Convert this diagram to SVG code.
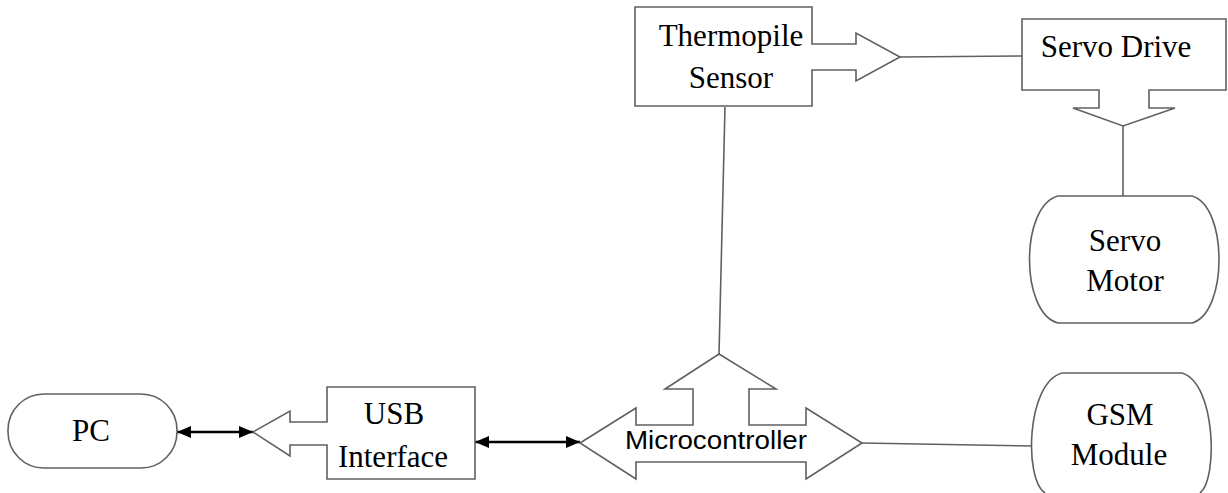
<svg xmlns="http://www.w3.org/2000/svg" width="1228" height="493" viewBox="0 0 1228 493">
  <style>
    .shape { fill: #ffffff; stroke: #606060; stroke-width: 1.6; stroke-linejoin: miter; }
    .wire { fill: none; stroke: #606060; stroke-width: 1.6; }
    .bus { fill: none; stroke: #000000; stroke-width: 2.4; }
    .label { font-family: "Liberation Serif", "Times New Roman", serif; font-size: 31px; fill: #000000; text-anchor: middle; }
    .mcu { font-family: "Liberation Sans", Arial, sans-serif; font-size: 25px; fill: #000000; }
  </style>
  <defs>
    <marker id="head" viewBox="0 0 14 12" refX="14" refY="6" markerWidth="14" markerHeight="12" markerUnits="userSpaceOnUse" orient="auto-start-reverse">
      <path d="M0,0 L14,6 L0,12 Z" fill="#000000"/>
    </marker>
  </defs>

  <rect width="1228" height="493" fill="#ffffff"/>

  <!-- connectors -->
  <g id="connectors">
    <line class="wire" x1="900" y1="57" x2="1022" y2="56"/>
    <line class="wire" x1="1123" y1="126" x2="1123" y2="196"/>
    <line class="wire" x1="719" y1="354" x2="725" y2="107"/>
    <line class="wire" x1="862" y1="443" x2="1032" y2="446"/>
    <line class="bus" x1="177" y1="432" x2="253" y2="432" marker-start="url(#head)" marker-end="url(#head)"/>
    <line class="bus" x1="475" y1="442" x2="580" y2="442" marker-start="url(#head)" marker-end="url(#head)"/>
  </g>

  <!-- thermopile sensor with output arrow -->
  <g id="thermopile">
    <path class="shape" d="M635,7 L812,7 L812,44 L856,44 L856,33 L900,57 L856,81 L856,70 L812,70 L812,106 L635,106 Z"/>
    <text class="label" x="731" y="46">Thermopile</text>
    <text class="label" x="731" y="88">Sensor</text>
  </g>

  <!-- servo drive with output arrow -->
  <g id="servo-drive">
    <path class="shape" d="M1022,19 L1226,19 L1226,90 L1149,90 L1149,108 L1175,108 L1123,126 L1073,108 L1099,108 L1099,90 L1022,90 Z"/>
    <text class="label" x="1116" y="57">Servo Drive</text>
  </g>

  <!-- servo motor -->
  <g id="servo-motor">
    <path class="shape" d="M1058,196 L1192,196 C1228,206 1228,313 1192,323 L1058,323 C1020,313 1020,206 1058,196 Z"/>
    <text class="label" x="1125" y="251">Servo</text>
    <text class="label" x="1125" y="291">Motor</text>
  </g>

  <!-- PC -->
  <g id="pc">
    <rect class="shape" x="8" y="394" width="169" height="74" rx="36" ry="36"/>
    <text class="label" x="91" y="441">PC</text>
  </g>

  <!-- USB interface with arrow toward PC -->
  <g id="usb">
    <path class="shape" d="M327,387 L475,387 L475,479 L327,479 L327,445 L290,445 L290,456 L253,432 L290,411 L290,422 L327,422 Z"/>
    <text class="label" x="394" y="424">USB</text>
    <text class="label" x="393" y="467">Interface</text>
  </g>

  <!-- microcontroller three-way arrow -->
  <g id="microcontroller">
    <path class="shape" d="M580,443 L636,408 L636,425 L693,425 L693,389 L665,389 L719,354 L776,389 L749,389 L749,425 L806,425 L806,408 L862,443 L806,479 L806,462 L636,462 L636,479 Z"/>
    <text class="mcu" x="625" y="449" textLength="182" lengthAdjust="spacingAndGlyphs">Microcontroller</text>
  </g>

  <!-- GSM module -->
  <g id="gsm">
    <path class="shape" d="M1062,373 L1182,373 C1216,383 1218,480 1200,493 M1045,493 C1024,480 1026,383 1062,373"/>
    <text class="label" x="1120" y="425">GSM</text>
    <text class="label" x="1119" y="465">Module</text>
  </g>
</svg>
